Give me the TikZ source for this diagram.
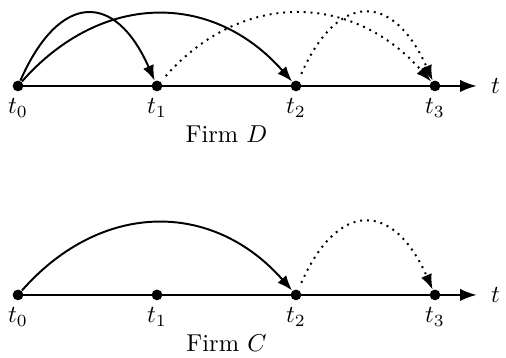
\documentclass[tikz,border=0pt]{standalone}
\usepackage{amsmath}
\usetikzlibrary{arrows.meta,positioning,calc}
\tikzset{
  dot/.style        = {circle, fill=black, minimum size=4.4pt, inner sep=0pt},
  axis/.style       = {-{Latex[length=2.4mm]}, thick},
  jump/.style       = {-{Latex[length=2.2mm]}, thick},
  late/.style       = {jump, dotted, shorten <=3pt},
  lbl/.style        = {inner sep=2.5pt},
}
\begin{document}
\begin{tikzpicture}
  \useasboundingbox (-0.259,-3.914) rectangle (7.022,1.237);
  % firm D
  \coordinate (dend) at (6.6,0);
  \draw[axis] (0,0) -- (dend) node[right=3pt, lbl] (dt) {$t$};
  \foreach \i in {0,...,3}
    \node[dot, label={[lbl]below:$t_{\i}$}] (d\i) at (2*\i,0) {};
  \draw[jump] (d0) .. controls +(0.6,1.36) and +(-0.6,1.36) .. (d1);
  \draw[jump] (d0) .. controls +(1.2,1.36) and +(-1.2,1.36) .. (d2);
  \draw[late] (d1) .. controls +(1.2,1.36) and +(-1.2,1.36) .. (d3);
  \draw[late] (d2) .. controls +(0.6,1.36) and +(-0.6,1.36) .. (d3);
  \node (firmD) at (3,-0.69) {Firm $D$};
  % firm C
  \coordinate (cend) at (6.6,-3.007);
  \draw[axis] (0,-3.007) -- (cend) node[right=3pt, lbl] (ct) {$t$};
  \foreach \i in {0,...,3}
    \node[dot, label={[lbl]below:$t_{\i}$}] (c\i) at (2*\i,-3.007) {};
  \draw[jump] (c0) .. controls +(1.2,1.36) and +(-1.2,1.36) .. (c2);
  \draw[late] (c2) .. controls +(0.6,1.36) and +(-0.6,1.36) .. (c3);
  \node (firmC) at (3,-3.697) {Firm $C$};
\end{tikzpicture}
\end{document}
